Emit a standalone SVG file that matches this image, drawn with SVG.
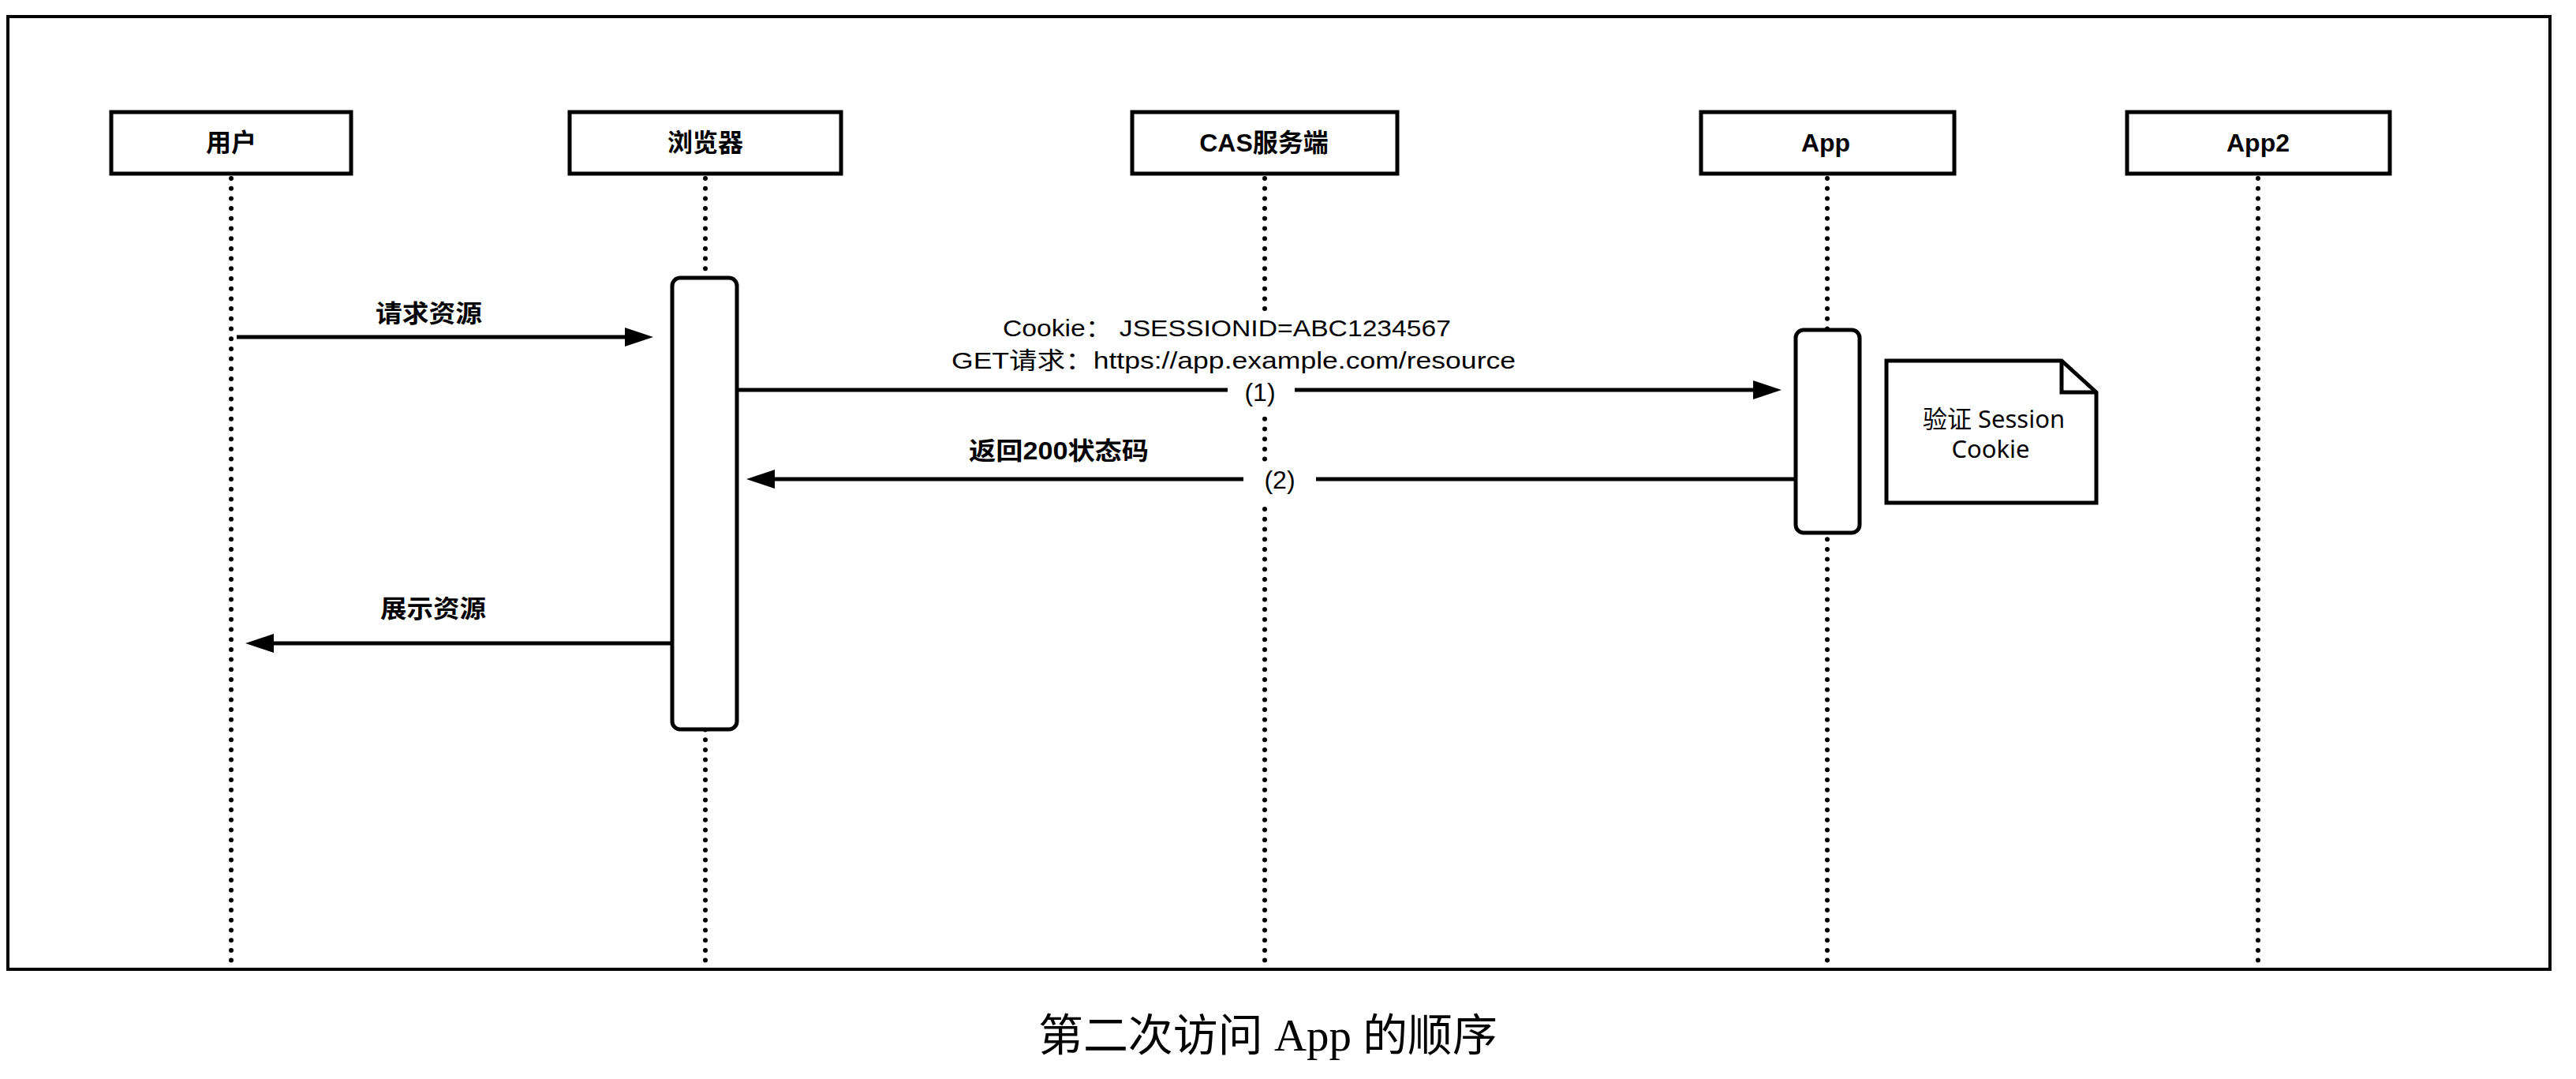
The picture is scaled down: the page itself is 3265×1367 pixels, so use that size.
<svg xmlns="http://www.w3.org/2000/svg" width="3265" height="1367" viewBox="0 0 3265 1367">
<defs>
<style>
.frame{fill:none;stroke:#000;stroke-width:4}
.head{fill:#fff;stroke:#000;stroke-width:5}
.life{stroke:#000;stroke-width:6;stroke-dasharray:0 12.7;stroke-linecap:round;fill:none}
.act{fill:#fff;stroke:#000;stroke-width:5}
.msg{stroke:#000;stroke-width:5;fill:none}
.bg{fill:#fff;stroke:none}
.ht{font-family:"Liberation Sans","Noto Sans CJK SC",sans-serif;font-size:32px;font-weight:bold;text-anchor:middle;fill:#000}
.lb{font-family:"Liberation Sans","Noto Sans CJK SC",sans-serif;font-size:31px;font-weight:bold;fill:#000}
.tx{font-family:"Liberation Sans","Noto Sans CJK SC",sans-serif;font-size:30px;fill:#000}
.nm{font-family:"Liberation Sans","Noto Sans CJK SC",sans-serif;font-size:32px;text-anchor:middle;fill:#000}
.nt{font-family:"Noto Sans","Noto Sans CJK SC",sans-serif;font-size:31px;text-anchor:middle;fill:#000}
.cap{font-family:"Liberation Serif","Noto Sans CJK SC",serif;font-size:56px;text-anchor:middle;fill:#000}
</style>
<marker id="arr" markerUnits="userSpaceOnUse" markerWidth="36" markerHeight="24" refX="4" refY="12" orient="auto">
<path d="M0,0 L36,12 L0,24 Z" fill="#000"/>
</marker>
</defs>
<rect width="3265" height="1367" fill="#fff"/>
<rect class="frame" x="10" y="21" width="3222" height="1207"/>

<g id="lifelines">
<line class="life" x1="293" y1="226" x2="293" y2="1222"/>
<line class="life" x1="894" y1="226" x2="894" y2="1222"/>
<line class="life" x1="1603" y1="226" x2="1603" y2="1222"/>
<line class="life" x1="2316" y1="226" x2="2316" y2="1222"/>
<line class="life" x1="2862" y1="226" x2="2862" y2="1222"/>
</g>

<g id="user">
<rect class="head" x="141" y="142" width="304" height="78"/>
<text class="ht" x="293" y="192">用户</text>
</g>
<g id="browser">
<rect class="head" x="722" y="142" width="344" height="78"/>
<text class="ht" x="894" y="192">浏览器</text>
<rect class="act" x="852" y="352" width="82" height="572" rx="10"/>
</g>
<g id="cas">
<rect class="head" x="1435" y="142" width="336" height="78"/>
<text class="ht" x="1602" y="192">CAS服务端</text>
</g>
<g id="app">
<rect class="head" x="2156" y="142" width="321" height="78"/>
<text class="ht" x="2314" y="192">App</text>
<rect class="act" x="2276" y="418" width="81" height="257" rx="10"/>
</g>
<g id="app2">
<rect class="head" x="2696" y="142" width="333" height="78"/>
<text class="ht" x="2862" y="192">App2</text>
</g>

<g id="note">
<path class="act" d="M2391,457 L2613,457 L2657,497 L2657,637 L2391,637 Z"/>
<path class="msg" d="M2613,457 L2613,497 L2657,497"/>
<text class="nt" x="2527" y="542">验证 Session</text>
<text class="nt" x="2523" y="580">Cookie</text>
</g>

<g id="connectors">
<line class="msg" x1="300" y1="427" x2="796" y2="427" marker-end="url(#arr)"/>
<text class="lb" x="476" y="408" textLength="135" lengthAdjust="spacingAndGlyphs">请求资源</text>

<rect class="bg" x="1200" y="394" width="728" height="84"/>
<rect class="bg" x="1560" y="478" width="78" height="48"/>
<line class="msg" x1="934" y1="494" x2="1556" y2="494"/>
<line class="msg" x1="1641" y1="494" x2="2226" y2="494" marker-end="url(#arr)"/>
<text class="nm" x="1597" y="508">(1)</text>
<text class="tx" x="1271" y="426" textLength="568" lengthAdjust="spacingAndGlyphs">Cookie：  JSESSIONID=ABC1234567</text>
<text class="tx" x="1206" y="467" textLength="715" lengthAdjust="spacingAndGlyphs">GET请求：https://app.example.com/resource</text>

<rect class="bg" x="1580" y="588" width="84" height="54"/>
<line class="msg" x1="2276" y1="607" x2="1668" y2="607"/>
<line class="msg" x1="1576" y1="607" x2="978" y2="607" marker-end="url(#arr)"/>
<text class="nm" x="1622" y="619">(2)</text>
<text class="lb" x="1228" y="582" textLength="228" lengthAdjust="spacingAndGlyphs">返回200状态码</text>

<line class="msg" x1="852" y1="815" x2="343" y2="815" marker-end="url(#arr)"/>
<text class="lb" x="482" y="782" textLength="134" lengthAdjust="spacingAndGlyphs">展示资源</text>
</g>

<text class="cap" x="1607" y="1331" textLength="582" lengthAdjust="spacingAndGlyphs">第二次访问 App 的顺序</text>
</svg>
